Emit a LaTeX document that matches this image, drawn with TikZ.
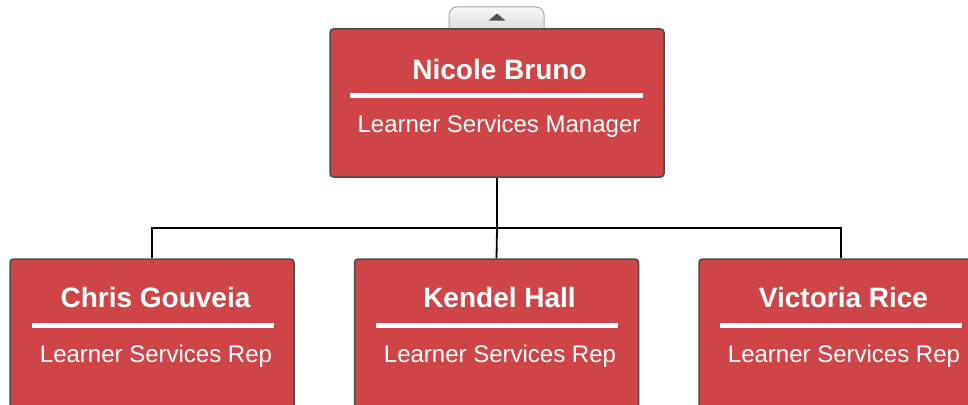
\documentclass[tikz,border=0pt]{standalone}
\usepackage{fontspec}
\setmainfont{Liberation Sans}
\usetikzlibrary{shapes.geometric}
\definecolor{boxred}{HTML}{CF4547}
\definecolor{boxedge}{HTML}{4A4A4A}
\definecolor{tabedge}{HTML}{A8A8A8}
\definecolor{tabtop}{HTML}{F6F6F6}
\definecolor{tabbot}{HTML}{D8D8D8}
\definecolor{tri}{HTML}{505050}
\begin{document}
\begin{tikzpicture}[x=1pt,y=-1pt,
  card/.style={draw=boxedge,line width=1.5pt,fill=boxred,rounded corners=3.5pt,inner sep=0pt},
  mgrcard/.style={card,minimum width=334pt,minimum height=148pt},
  repcard/.style={card,minimum width=284pt,minimum height=170pt},
  nametext/.style={text=white,font=\fontsize{28}{31}\selectfont\bfseries,anchor=base,inner sep=0pt},
  roletext/.style={text=white,font=\fontsize{24}{28}\selectfont,anchor=base,inner sep=0pt},
  rule/.style={draw=white,line width=5.5pt},
  link/.style={draw=black,line width=1.8pt}]
\useasboundingbox (0,0) rectangle (968,404);
\clip (0,0) rectangle (968,404);
\fill[white] (0,0) rectangle (968,404);
% collapse tab
\shade[top color=tabtop,bottom color=tabbot,draw=tabedge,line width=1pt,rounded corners=8pt]
  (449,34) -- (449,7) -- (544,7) -- (544,34);
\node[fill=tri,isosceles triangle,shape border rotate=90,isosceles triangle apex angle=100,
  inner sep=0pt,minimum width=16pt,minimum height=7pt] (tab) at (497,17.5) {};
% manager
\node[mgrcard] (m) at (497,103) {};
\node[nametext] (mn) at (499.5,79) {Nicole Bruno};
\draw[rule] (350,95.5) -- (643,95.5);
\node[roletext] (mr) at (499,132) {Learner Services Manager};
% reps
\node[repcard] (c1) at (152,344) {};
\node[repcard] (c2) at (496.5,344) {};
\node[repcard] (c3) at (841,344) {};
\node[nametext] (n1) at (155.5,307) {Chris Gouveia};
\node[nametext] (n2) at (499.5,307) {Kendel Hall};
\node[nametext] (n3) at (843.5,307) {Victoria Rice};
\draw[rule] (32,325.3) -- (274,325.3);
\draw[rule] (376,325.3) -- (618,325.3);
\draw[rule] (720,325.3) -- (962,325.3);
\node[roletext] (r1) at (156,362) {Learner Services Rep};
\node[roletext] (r2) at (500,362) {Learner Services Rep};
\node[roletext] (r3) at (844,362) {Learner Services Rep};
% connectors
\coordinate (j) at (497,228);
\draw[link] (m.south) -- (j);
\draw[link] (c1.north) -- (c1.north |- j) -- (c3.north |- j) -- (c3.north);
\draw[link] (j) -- (c2.north);
\end{tikzpicture}
\end{document}
